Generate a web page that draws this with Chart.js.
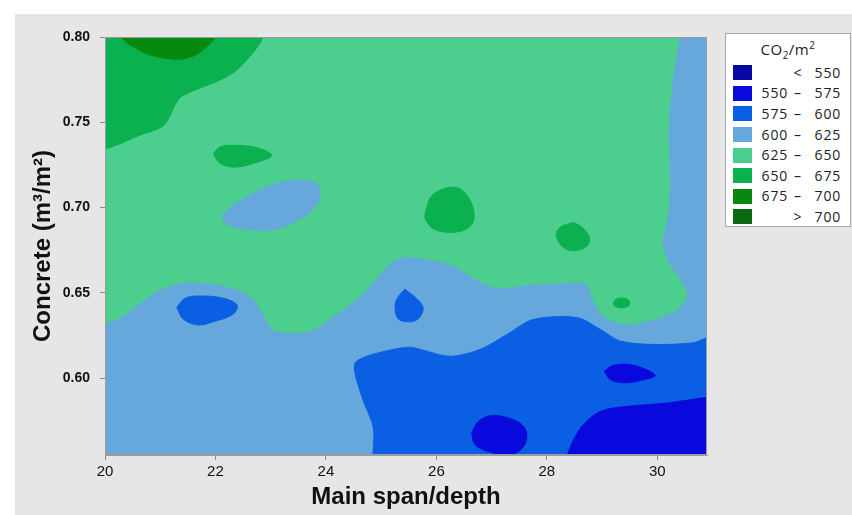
<!DOCTYPE html>
<html>
<head>
<meta charset="utf-8">
<script src="https://cdn.jsdelivr.net/npm/chart.js@4.4.1/dist/chart.umd.min.js"></script>
<style>
  html, body { margin: 0; padding: 0; background: #fff; }
  #wrap { position: relative; width: 852px; height: 515px; overflow: hidden; }
  #bg { position: absolute; left: 15px; top: 14px; right: 0; bottom: 0; background: #e6e6e6; }
  #c { position: absolute; left: 0; top: 0; }
  #legend {
    position: absolute; left: 725px; top: 33px; width: 126px; height: 194px;
    box-sizing: border-box; background: #fff; border: 1px solid #a9a9a9;
    font-family: "Open Sans", sans-serif; font-size: 14px; color: #222; letter-spacing: 0.8px;
  }
  #legend .title { position: absolute; left: 0; top: 6px; width: 100%; text-align: center;
    font-size: 15px; line-height: 18px; letter-spacing: 0.5px; }
  #legend sub, #legend sup { font-size: 10px; line-height: 0; }
  #legend .sw { position: absolute; left: 7px; width: 19px; height: 15px; }
  #legend .lo, #legend .dash, #legend .hi { position: absolute; line-height: 20px; white-space: nowrap; }
  #legend .lo { left: 28px; width: 34px; text-align: right; }
  #legend .dash { left: 65px; width: 14px; text-align: center; }
  #legend .hi { left: 80px; width: 35px; text-align: right; }
</style>
</head>
<body>
<div id="wrap">
  <div id="bg"></div>
  <canvas id="c" width="852" height="515"></canvas>
  <div id="legend"><div class="title">CO<sub>2</sub>/m<sup>2</sup></div></div>
</div>
<script>
/* axis ranges */
const xMin = 20, xMax = 30.9, xStep = 2;
const yMin = 0.555, yMax = 0.80, yStep = 0.05;

/* legend bands */
const bandLow = [null, 550, 575, 600, 625, 650, 675, 700];
const bandHigh = [550, 575, 600, 625, 650, 675, 700, null];
const bandColors = ["#0707a4", "#0909dd", "#0b5fe3", "#67a8dc", "#4ccf8e", "#0bb04f", "#07890f", "#0a6a14"];

/* contour outlines, [main span/depth, concrete] */
const plotArea = [[19.5, 0.54], [31.5, 0.54], [31.5, 0.82], [19.5, 0.82]];

const band625Main = [
  [19.5, 0.82], [30.45, 0.82], [30.40, 0.80], [30.27, 0.7747], [30.20, 0.7453], [30.22, 0.7159],
  [30.18, 0.6943], [30.09, 0.6806], [30.18, 0.6688], [30.42, 0.6571], [30.53, 0.6482],
  [30.36, 0.6404], [29.93, 0.6345], [29.45, 0.6316], [29.03, 0.6365], [28.85, 0.6453],
  [28.73, 0.6551], [28.55, 0.6561], [27.76, 0.6551], [27.10, 0.6531], [26.67, 0.659],
  [26.25, 0.6669], [25.83, 0.6698], [25.40, 0.6712], [25.22, 0.6688], [24.98, 0.661],
  [24.62, 0.6482], [24.14, 0.6365], [23.77, 0.6286], [23.35, 0.6266], [23.05, 0.6286],
  [22.87, 0.6375], [22.69, 0.6463], [22.45, 0.6512], [22.02, 0.6551], [21.42, 0.6561],
  [20.94, 0.6512], [20.57, 0.6424], [20.27, 0.6355], [20.02, 0.6325], [19.5, 0.631]
];

const band650Corner = [
  [19.5, 0.82], [22.9, 0.82], [22.86, 0.80], [22.45, 0.7825], [22.14, 0.7757], [21.42, 0.7659],
  [21.30, 0.762], [21.06, 0.7482], [20.63, 0.7424], [20.02, 0.7345], [19.5, 0.732]
];

const band675Corner = [
  [20.2, 0.82], [20.30, 0.80], [20.51, 0.7943], [20.82, 0.7894], [21.30, 0.7869],
  [21.60, 0.7888], [21.84, 0.7943], [21.99, 0.80], [22.1, 0.82]
];

const band650BlobA = [
  [21.96, 0.7316], [22.08, 0.7355], [22.32, 0.7365], [22.75, 0.7351], [23.02, 0.7306],
  [22.81, 0.7272], [22.36, 0.7237], [22.08, 0.7261]
];

const band650BlobB = [
  [25.80, 0.6972], [25.92, 0.7071], [26.25, 0.7119], [26.46, 0.7104], [26.64, 0.7022],
  [26.68, 0.6933], [26.55, 0.6875], [26.25, 0.6855], [25.95, 0.6875], [25.80, 0.6933]
];

const band650BlobC = [
  [28.48, 0.6914], [28.64, 0.6884], [28.77, 0.6825], [28.73, 0.6776], [28.51, 0.6747],
  [28.30, 0.6766], [28.17, 0.6835], [28.24, 0.6884]
];

const band650BlobD = [
  [29.20, 0.6438], [29.25, 0.6462], [29.36, 0.6470], [29.48, 0.6458], [29.49, 0.6428],
  [29.37, 0.6413], [29.24, 0.6420]
];

const band600Island = [
  [22.11, 0.6943], [22.32, 0.7012], [23.05, 0.7135], [23.65, 0.7159], [23.89, 0.7119],
  [23.84, 0.7022], [23.53, 0.6933], [23.05, 0.6869], [22.57, 0.6875], [22.20, 0.6904]
];

const band575Lower = [
  [24.85, 0.54], [24.85, 0.554], [24.86, 0.5708], [24.68, 0.5865], [24.53, 0.6022], [24.53, 0.609],
  [24.74, 0.6129], [25.22, 0.6169], [25.53, 0.6182], [25.71, 0.6169], [26.25, 0.6129],
  [26.79, 0.6169], [27.28, 0.6257], [27.76, 0.6345], [28.55, 0.6355], [28.97, 0.6286],
  [29.33, 0.6218], [29.93, 0.6198], [30.66, 0.6208], [30.90, 0.6237], [31.5, 0.627], [31.5, 0.54]
];

const band575BlobA = [
  [21.30, 0.6414], [21.45, 0.6469], [21.72, 0.6482], [22.14, 0.6469], [22.39, 0.6429],
  [22.32, 0.6375], [21.96, 0.6331], [21.69, 0.6312], [21.42, 0.6345]
];

const band575BlobB = [
  [25.43, 0.6522], [25.62, 0.6473], [25.76, 0.6414], [25.68, 0.6351], [25.53, 0.6331],
  [25.31, 0.6347], [25.25, 0.6424], [25.30, 0.6473]
];

const band550BlobA = [
  [29.04, 0.6041], [29.21, 0.6076], [29.57, 0.6076], [29.96, 0.6018], [29.69, 0.5986],
  [29.39, 0.5973], [29.15, 0.5992]
];

const band550BlobB = [
  [26.64, 0.5678], [26.76, 0.5747], [27.03, 0.5782], [27.46, 0.5747], [27.63, 0.5688],
  [27.58, 0.56], [27.34, 0.5551], [26.97, 0.5567], [26.70, 0.561]
];

const band550Corner = [
  [28.3, 0.54], [28.36, 0.554], [28.61, 0.5708], [28.97, 0.5806], [29.45, 0.5835],
  [30.18, 0.5855], [30.90, 0.5888], [31.5, 0.591], [31.5, 0.54]
];

/* paint order, bottom first */
const layers = [
  { pts: plotArea, band: 3, tension: 0 },
  { pts: band625Main, band: 4, tension: 0.3 },
  { pts: band650Corner, band: 5, tension: 0.3 },
  { pts: band675Corner, band: 6, tension: 0.3 },
  { pts: band650BlobA, band: 5, tension: 0.35 },
  { pts: band650BlobB, band: 5, tension: 0.35 },
  { pts: band650BlobC, band: 5, tension: 0.35 },
  { pts: band650BlobD, band: 5, tension: 0.35 },
  { pts: band600Island, band: 3, tension: 0.35 },
  { pts: band575Lower, band: 2, tension: 0.3 },
  { pts: band575BlobA, band: 2, tension: 0.35 },
  { pts: band575BlobB, band: 2, tension: 0.35 },
  { pts: band550BlobA, band: 1, tension: 0.35 },
  { pts: band550BlobB, band: 1, tension: 0.35 },
  { pts: band550Corner, band: 1, tension: 0.3 }
];

const datasets = layers.map((l, i) => ({
  data: l.pts.concat([l.pts[0]]).map(([x, y]) => ({ x, y })),
  order: layers.length - i,
  fill: "shape",
  backgroundColor: bandColors[l.band],
  borderColor: bandColors[l.band],
  borderWidth: 1,
  pointRadius: 0,
  tension: l.tension
}));

/* thin frame round the plot */
const plotFrame = {
  id: "plotFrame",
  afterDatasetsDraw(chart) {
    const { ctx, chartArea: a } = chart;
    ctx.save();
    ctx.strokeStyle = "#9c9c9c";
    ctx.lineWidth = 1;
    ctx.strokeRect(a.left + 0.5, a.top + 0.5, a.right - a.left - 1, a.bottom - a.top - 1);
    ctx.restore();
  }
};

const font = "'Liberation Sans', Arial, sans-serif";

new Chart(document.getElementById("c"), {
  type: "line",
  data: { datasets },
  options: {
    responsive: false,
    animation: false,
    events: [],
    elements: { line: { capBezierPoints: false } },
    layout: { padding: { left: 0, top: 37, right: 145, bottom: 0 } },
    plugins: { legend: { display: false }, tooltip: { enabled: false } },
    scales: {
      x: {
        type: "linear", min: xMin, max: xMax,
        ticks: { stepSize: xStep, includeBounds: false, color: "#111", padding: 3,
                 font: { family: font, size: 15 } },
        grid: { drawOnChartArea: false, tickLength: 5, color: "#8a8a8a" },
        border: { color: "#9c9c9c" },
        title: { display: true, text: "Main span/depth", color: "#111",
                 font: { family: font, size: 24, weight: "bold" }, padding: { top: 0, bottom: 3 } },
        afterFit(s) { s.height = 60; }
      },
      y: {
        type: "linear", min: yMin, max: yMax,
        ticks: { stepSize: yStep, includeBounds: false, color: "#111", padding: 10,
                 font: { family: font, size: 14, weight: "bold" },
                 callback: v => v.toFixed(2) },
        grid: { drawOnChartArea: false, tickLength: 5, color: "#8a8a8a" },
        border: { color: "#9c9c9c" },
        title: { display: true, text: "Concrete (m³/m²)", color: "#111",
                 font: { family: font, size: 24, weight: "bold" }, padding: { top: 29, bottom: 0 } },
        afterFit(s) { s.width = 105; }
      }
    }
  },
  plugins: [plotFrame]
});

/* legend */
const legend = document.getElementById("legend");
bandColors.forEach((col, i) => {
  const cy = 38.7 + i * 20.6;
  const sw = document.createElement("div");
  sw.className = "sw";
  sw.style.top = (cy - 7.5) + "px";
  sw.style.background = col;
  legend.appendChild(sw);
  const open = bandLow[i] === null || bandHigh[i] === null;
  const parts = [
    ["lo", open ? "" : String(bandLow[i])],
    ["dash", bandLow[i] === null ? "<" : bandHigh[i] === null ? ">" : "–"],
    ["hi", String(bandHigh[i] === null ? bandLow[i] : bandHigh[i])]
  ];
  parts.forEach(([cls, txt]) => {
    const s = document.createElement("span");
    s.className = cls;
    s.style.top = (cy - 10) + "px";
    s.textContent = txt;
    legend.appendChild(s);
  });
});
</script>
</body>
</html>
